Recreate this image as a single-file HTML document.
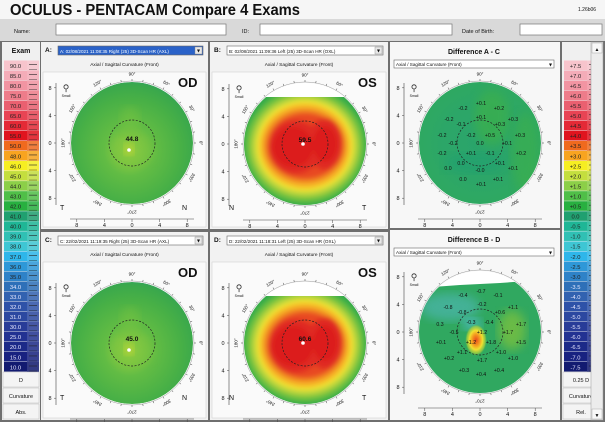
<!DOCTYPE html>
<html><head><meta charset="utf-8">
<style>
html,body{margin:0;padding:0;background:#6f6f6f;}
svg{display:block;font-family:"Liberation Sans",sans-serif;}
</style></head>
<body>
<svg id="s" width="605" height="422" viewBox="0 0 605 422" xmlns="http://www.w3.org/2000/svg">
<defs>
<radialGradient id="gAC" cx="0.48" cy="0.56" r="0.6">
<stop offset="0" stop-color="#b8d83a"/><stop offset="0.12" stop-color="#8ccb40"/><stop offset="0.35" stop-color="#62bc44"/><stop offset="0.7" stop-color="#48b046"/><stop offset="0.9" stop-color="#3aa84c"/><stop offset="1" stop-color="#2c9e6c"/>
</radialGradient>
<radialGradient id="gDiff1" cx="0.5" cy="0.5" r="0.6">
<stop offset="0" stop-color="#2aa46c"/><stop offset="0.5" stop-color="#2ca668"/><stop offset="1" stop-color="#30aa5e"/>
</radialGradient>
<radialGradient id="gHot" cx="0.5" cy="0.5" r="0.5">
<stop offset="0" stop-color="#e84a1c"/><stop offset="0.35" stop-color="#f49a20"/><stop offset="0.6" stop-color="#f0e030"/><stop offset="0.85" stop-color="#a8d03c" stop-opacity="0.7"/><stop offset="1" stop-color="#40b050" stop-opacity="0"/>
</radialGradient>
<filter id="blur"><feGaussianBlur stdDeviation="5"/></filter>
<filter id="blur3"><feGaussianBlur stdDeviation="2.5"/></filter>
</defs>
</svg>
<script>
const absLabels=["90.0","85.0","80.0","75.0","70.0","65.0","60.0","55.0","50.0","48.0","46.0","45.0","44.0","43.0","42.0","41.0","40.0","39.0","38.0","37.0","36.0","35.0","34.0","33.0","32.0","31.0","30.0","25.0","20.0","15.0","10.0"];
const relLabels=["+7.5","+7.0","+6.5","+6.0","+5.5","+5.0","+4.5","+4.0","+3.5","+3.0","+2.5","+2.0","+1.5","+1.0","+0.5","0.0","-0.5","-1.0","-1.5","-2.0","-2.5","-3.0","-3.5","-4.0","-4.5","-5.0","-5.5","-6.0","-6.5","-7.0","-7.5"];
const scaleColors=["#f7c4cc","#f4acb8","#f294a2","#ee7c8a","#ea6070","#e84454","#e42a36","#e0141e","#f06a1e","#f8a420","#f6ee22","#c4de3e","#8ccf48","#50bf48","#28b040","#20a070","#1fb696","#30c0b4","#3ec6d4","#2eb6ea","#2e98d8","#2e82c8","#2e70b8","#3262b0","#2e52a8","#2c48a0","#283c98","#223292","#1c2a88","#182280","#121a70"];
const acVals=["-0.2","+0.1","+0.2","-0.2","-0.1","+0.1","+0.3","+0.3","-0.2","-0.2","+0.5","+0.3","-0.2","0.0","+0.1","-0.2","+0.1","-0.1","+0.2","0.0","+0.1","-0.0","0.0","+0.1","0.0","+0.1","+0.1"];
const acDx=[-17,1,19,-31,-19,1,20,33,-38,-9,10,40,-27,0,27,-38,-9,10,41,-19,20,0,-32,33,-17,1,18];
const acDy=[-35,-40,-35,-24,-19,-26,-19,-24,-8,-8,-8,-8,0,0,0,10,10,10,10,20,20,27,25,25,36,41,36];
const bdVals=["-0.4","-0.7","-0.1","-0.8","-0.2","-0.8","+0.6","+1.1","0.3","-0.3","-0.4","+1.7","-0.5","+1.2","+1.7","+0.1","+1.2","+1.8","+1.5","+1.1","+1.0","+0.2","+1.7","+1.0","+0.3","+0.4","+0.4"];
const bdDx=[-17,1,18,-32,2,-18,20,33,-40,-9,9,41,-26,2,28,-39,-9,11,41,-18,21,-31,2,33,-16,1,19];
const bdDy=[-37,-41,-37,-25,-28,-20,-20,-25,-8,-10,-10,-8,0,0,0,10,10,10,10,20,20,26,28,26,38,42,38];
const axisTicks=["8","4","0","4","8"];
const degLabels=["0°","30°","60°","90°","120°","150°","180°","210°","240°","270°","300°","330°"];

const S=document.getElementById('s');
const NS="http://www.w3.org/2000/svg";
function el(tag,attrs,parent){const e=document.createElementNS(NS,tag);for(const k in attrs)e.setAttribute(k,attrs[k]);(parent||S).appendChild(e);return e;}
function tx(x,y,t,size,attrs,parent){const e=el('text',Object.assign({x:x,y:y,'font-size':size,fill:'#111'},attrs||{}),parent);e.textContent=t;return e;}

let r=el('rect',{x:0,y:0,width:605,height:19,fill:'#f6f6f6'});


let t=tx(10,15,"OCULUS  -  PENTACAM   Compare 4 Exams",15.5,{'font-weight':'bold','xml:space':'preserve',textLength:290,lengthAdjust:'spacingAndGlyphs'});


t=tx(578,11,"1.26b06",5);


r=el('rect',{x:0,y:19,width:605,height:22,fill:'#d9d9d9'});


const fields=[["Name:",14,56,226],["ID:",242,260,452],["Date of Birth:",462,520,602]];
fields.forEach(f=>{tx(f[1],33,f[0],5.5);
 const b=el('rect',{x:f[2],y:24,width:f[3]-f[2],height:11,fill:'#fff',stroke:'#777','stroke-width':0.7});
 
 });

function scale(x,y0,labels,name,bottom){
 const g=el('g',{});
 
 
 el('rect',{x:x,y:42,width:38,height:378,fill:'#f0f0f0'},g);
 labels.forEach((l,i)=>{const y=y0+i*10.05;
  const c=el('rect',{x:x+2,y:y,width:23,height:9.6,fill:scaleColors[i]},g);
  
  
  el('rect',{x:x+25,y:y,width:12,height:10,fill:scaleColors[i],opacity:0.85},g);
  el('line',{x1:x+27,x2:x+35,y1:y+4,y2:y+4,stroke:'#222','stroke-width':0.6},g);
  el('line',{x1:x+27,x2:x+35,y1:y+9,y2:y+9,stroke:'#222','stroke-width':0.4},g);
  tx(x+13.5,y+7.3,l,5.8,{'text-anchor':'middle',fill:i>=22?'#e8e8ff':'#222'},g);});
 bottom.forEach((b,i)=>{el('rect',{x:x+1,y:372+i*16,width:36,height:15,fill:'#f4f4f4',stroke:'#bbb','stroke-width':0.5},g);
  tx(x+19,382+i*16,b,5.5,{'text-anchor':'middle'},g);});
}
scale(2,60.5,absLabels,'absolute-color-scale',["D","Curvature","Abs."]);
tx(21,53,"Exam",7,{'text-anchor':'middle','font-weight':'bold'});
scale(562,60.5,relLabels,'relative-color-scale',["0.25 D","Curvature","Rel."]);
r=el('rect',{x:591,y:42,width:12,height:378,fill:'#ececec',stroke:'#999','stroke-width':0.5});


el('rect',{x:592,y:43,width:10,height:10,fill:'#f8f8f8',stroke:'#999','stroke-width':0.4});
el('rect',{x:592,y:409,width:10,height:10,fill:'#f8f8f8',stroke:'#999','stroke-width':0.4});
tx(597,51,"▲",5,{'text-anchor':'middle'});tx(597,417,"▼",5,{'text-anchor':'middle'});

function mapPanel(px,py,w,h,cx,cy,label,selText,eye,corner,kind,pname){
 const g=el('g',{});
 
 
 el('rect',{x:px,y:py,width:w,height:h,fill:'#f2f2f2'},g);
 el('rect',{x:px+2,y:py+30,width:w-4,height:h-32,fill:'#fafafa',stroke:'#ccc','stroke-width':0.5},g);
 tx(px+4,py+10,label,6.5,{'font-weight':'bold'},g);
 const sel=el('rect',{x:px+17,y:py+4,width:w-22,height:9,fill:label==='A:'?'#2a62c8':'#fff',stroke:'#666','stroke-width':0.6},g);
 
 
 tx(px+19,py+11,selText,4.6,{fill:label==='A:'?'#fff':'#111'},g);
 el('rect',{x:px+w-13,y:py+5,width:7,height:7,fill:'#e8e8e8',stroke:'#888','stroke-width':0.4},g);
 tx(px+w-9.5,py+10.5,"▾",6,{'text-anchor':'middle'},g);
 tx(px+w/2,py+24,"Axial / Sagittal Curvature (Front)",4.8,{'text-anchor':'middle'},g);
 drawMap(g,cx,cy,kind);
 tx(px+w-30,py+45,eye,13,{'font-weight':'bold'},g);
 tx(px+19,py+168,corner[0],7,{},g);tx(px+w-26,py+168,corner[1],7,{},g);
}
function axes(g,cx,cy){
 const k=6.9;
 el('line',{x1:cx-76,x2:cx-76,y1:cy-60,y2:cy+62,stroke:'#444','stroke-width':0.6},g);
 el('line',{x1:cx-62,x2:cx+62,y1:cy+76,y2:cy+76,stroke:'#444','stroke-width':0.6},g);
 axisTicks.forEach((l,i)=>{const v=[-8,-4,0,4,8][i];
  tx(cx-82,cy+v*k+2,l,5.5,{'text-anchor':'middle'},g);
  el('line',{x1:cx-78,x2:cx-76,y1:cy+v*k,y2:cy+v*k,stroke:'#444','stroke-width':0.5},g);
  tx(cx+v*k,cy+84,l,5.5,{'text-anchor':'middle'},g);
  el('line',{x1:cx+v*k,x2:cx+v*k,y1:cy+76,y2:cy+79,stroke:'#444','stroke-width':0.5},g);});
 tx(cx-66,cy-52,"⚲",9,{'text-anchor':'middle',fill:'#333'},g);
 tx(cx-66,cy-46,"Small",3.5,{'text-anchor':'middle'},g);
}
let clipN=0;
function drawMap(g,cx,cy,kind){
 const R=61;
 axes(g,cx,cy);
 clipN++;
 const cp=el('clipPath',{id:'c'+clipN},S.querySelector('defs'));
 el('circle',{cx:cx,cy:cy,r:R},cp);
 const m=el('g',{'clip-path':'url(#c'+clipN+')'},g);
 
 
 if(kind==='ac'){
  el('circle',{cx:cx,cy:cy,r:R,fill:'url(#gAC)'},m);
  el('ellipse',{cx:cx-2,cy:cy-22,rx:10,ry:14,fill:'#74c242',opacity:0.6,filter:'url(#blur)'},m);
  el('ellipse',{cx:cx+2,cy:cy+8,rx:20,ry:14,fill:'#76c242',opacity:0.5,filter:'url(#blur)'},m);
  el('ellipse',{cx:cx-3,cy:cy+6,rx:5,ry:6,fill:'#c8dc38',opacity:0.8,filter:'url(#blur)'},m);
 } else if(kind==='bd'){
  el('rect',{x:cx-R,y:cy-R,width:2*R,height:2*R,fill:'#fff'},m);
  const c2=el('clipPath',{id:'cc'+clipN},S.querySelector('defs'));
  el('rect',{x:cx-R,y:cy-47,width:2*R,height:2*R},c2);
  const m2=el('g',{'clip-path':'url(#cc'+clipN+')'},m);
  el('rect',{x:cx-R,y:cy-R,width:2*R,height:2*R,fill:'#34aa4a'},m2);
  const bands=el('g',{filter:'url(#blur3)'},m2);
  el('ellipse',{cx:cx,cy:cy+2,rx:60,ry:57,fill:'#6cc040'},bands);
  el('ellipse',{cx:cx,cy:cy+2,rx:54,ry:51,fill:'#b4d43c'},bands);
  el('ellipse',{cx:cx,cy:cy+2,rx:49,ry:46,fill:'#f0e232'},bands);
  el('ellipse',{cx:cx,cy:cy+2,rx:45,ry:42,fill:'#f6b426'},bands);
  el('ellipse',{cx:cx,cy:cy+2,rx:41,ry:37,fill:'#f08020'},bands);
  el('ellipse',{cx:cx,cy:cy+2,rx:37,ry:33,fill:'#e84a20'},bands);
  el('ellipse',{cx:cx-10,cy:cy+3,rx:27,ry:27,fill:'#e02a22'},bands);
  el('ellipse',{cx:cx+20,cy:cy,rx:18,ry:26,fill:'#e02a22'},bands);
  el('ellipse',{cx:cx-12,cy:cy+3,rx:20,ry:20,fill:'#dc1a1c'},bands);
  el('ellipse',{cx:cx+20,cy:cy,rx:12,ry:18,fill:'#dc1a1c'},bands);
 } else if(kind==='diff1'){
  el('circle',{cx:cx,cy:cy,r:R,fill:'url(#gDiff1)'},m);
  el('ellipse',{cx:cx+12,cy:cy-25,rx:18,ry:28,fill:'#3cb04c',opacity:0.7,filter:'url(#blur)'},m);
  el('ellipse',{cx:cx+45,cy:cy+10,rx:14,ry:40,fill:'#3cb04c',opacity:0.6,filter:'url(#blur)'},m);
  el('ellipse',{cx:cx-5,cy:cy+20,rx:30,ry:10,fill:'#22a070',opacity:0.7,filter:'url(#blur)'},m);
  drawLabels(m,cx,cy,acVals,acDx,acDy);
 } else {
  el('rect',{x:cx-R,y:cy-R,width:2*R,height:2*R,fill:'#fff'},m);
  const c2=el('clipPath',{id:'cc'+clipN},S.querySelector('defs'));
  el('polygon',{points:`${cx-R},${cy-44} ${cx-20},${cy-47} ${cx+20},${cy-49} ${cx+R},${cy-52} ${cx+R},${cy+R} ${cx-R},${cy+R}`},c2);
  const m2=el('g',{'clip-path':'url(#cc'+clipN+')'},m);
  el('rect',{x:cx-R,y:cy-R,width:2*R,height:2*R,fill:'#30a860'},m2);
  el('ellipse',{cx:cx-30,cy:cy-25,rx:30,ry:14,fill:'#48b4a4',opacity:0.8,filter:'url(#blur)'},m2);
  el('ellipse',{cx:cx-8,cy:cy-8,rx:10,ry:6,fill:'#50bcc0',opacity:0.9,filter:'url(#blur)'},m2);
  el('ellipse',{cx:cx+32,cy:cy-2,rx:14,ry:20,fill:'#78c040',opacity:0.8,filter:'url(#blur)'},m2);
  el('ellipse',{cx:cx-4,cy:cy+8,rx:11,ry:16,fill:'url(#gHot)'},m2);
  drawLabels(m,cx,cy,bdVals,bdDx,bdDy);
 }
 if(kind==='ac'||kind==='bd'){
  const cv=kind==='ac'?(cy<200?'44.8':'45.0'):(cy<200?'59.5':'60.6');
  tx(cx,cy-2,cv,6.5,{'text-anchor':'middle','font-weight':'bold'},g);
  el('circle',{cx:cx+(kind==='ac'?-3:-2),cy:cy+(kind==='ac'?7:0),r:1.8,fill:'#fff'},g);
 }
 el('circle',{cx:cx,cy:cy,r:23,fill:'none',stroke:'#222','stroke-width':0.7,'stroke-dasharray':'2,1.5'},g);
 el('circle',{cx:cx,cy:cy,r:R+1,fill:'none',stroke:'#999','stroke-width':0.5},g);
 for(let a=0;a<360;a+=10){const rad=a*Math.PI/180;
  el('line',{x1:cx+(R+1)*Math.cos(rad),y1:cy-(R+1)*Math.sin(rad),x2:cx+(R+3)*Math.cos(rad),y2:cy-(R+3)*Math.sin(rad),stroke:'#444','stroke-width':0.5},g);}
 degLabels.forEach((l,i)=>{const a=i*30,rad=a*Math.PI/180;const x=cx+(R+8)*Math.cos(rad),y=cy-(R+8)*Math.sin(rad);
  tx(x,y+1.5,l,4.5,{'text-anchor':'middle',transform:`rotate(${90-a} ${x} ${y})`},g);});
}
function drawLabels(m,cx,cy,vals,dx,dy){
 vals.forEach((v,i)=>{const t=tx(cx+dx[i],cy+dy[i]+2,v,5.2,{'text-anchor':'middle',fill:'#111'},m);
  
  });
}
mapPanel(41,42,167,187,132,143,"A:","A: 02/08/2021  11:08:35  Right  (25) 3D-Scan HR (AXL)","OD",["T","N"],'ac','exam-panel-a');
mapPanel(210,42,178,187,305,144,"B:","B: 02/08/2021  11:09:36  Left   (25) 3D-Scan HR (OXL)","OS",["N","T"],'bd','exam-panel-b');
mapPanel(41,232,167,188,132,343,"C:","C: 22/02/2021  11:19:35  Right  (25) 3D-Scan HR (AXL)","OD",["T","N"],'ac','exam-panel-c');
mapPanel(210,232,178,188,305,343,"D:","D: 22/02/2021  11:18:31  Left   (25) 3D-Scan HR (OXL)","OS",["N","T"],'bd','exam-panel-d');

function diffPanel(py,h,cy,title,kind,pname){
 const g=el('g',{});
 
 
 el('rect',{x:390,y:py,width:170,height:h,fill:'#f7f7f7'},g);
 tx(474,py+12,title,7,{'text-anchor':'middle','font-weight':'bold'},g);
 const sel=el('rect',{x:394,y:py+18,width:160,height:8,fill:'#fff',stroke:'#666','stroke-width':0.6},g);
 
 
 tx(396,py+24,"Axial / Sagittal Curvature (Front)",4.6,{},g);
 tx(549,py+24.5,"▾",6,{},g);
 drawMap(g,480,cy,kind);
}
diffPanel(42,186,143,"Difference A - C",'diff1','difference-panel-a-c');
diffPanel(230,190,332,"Difference B - D",'diff2','difference-panel-b-d');
</script>
</body></html>
